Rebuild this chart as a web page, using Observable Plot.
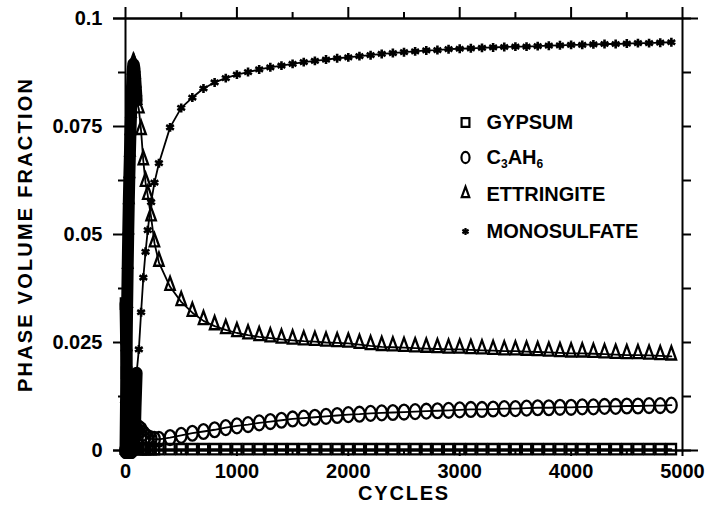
<!DOCTYPE html>
<html><head><meta charset="utf-8">
<script src="https://cdn.jsdelivr.net/npm/d3@7"></script>
<script src="https://cdn.jsdelivr.net/npm/@observablehq/plot@0.6"></script>
<style>body{margin:0;background:#fff}#chart{width:713px;height:520px}</style>
</head><body><div id="chart"></div>
<script>
// ---- data ----
const cycles = [0,5,10,15,20,25,30,35,40,45,50,55,60,65,70,75,80,85,90,95,100,
  120,140,160,180,200,230,260,300,
  400,500,600,700,800,900,1000,1100,1200,1300,
  1400,1500,1600,1700,1800,1900,2000,2100,2200,2300,
  2400,2500,2600,2700,2800,2900,3000,3100,3200,3300,
  3400,3500,3600,3700,3800,3900,4000,4100,4200,4300,
  4400,4500,4600,4700,4800,4900];

const gypsum = [0.034,0.026,0.018,0.011,0.006,0.003,0.0015,0.001,0.0005,0.0005,0.0005,0.0005,0.0005,0.0005,0.0005,0.0005,0.0005,0.0005,0.0005,0.0005,0.0005,
  0.0003,0.0003,0.0003,0.0003,0.0003,0.0003,0.0003,0.0003,
  0.0003,0.0003,0.0003,0.0003,0.0003,0.0003,0.0003,0.0003,0.0003,0.0003,
  0.0003,0.0003,0.0003,0.0003,0.0003,0.0003,0.0003,0.0003,0.0003,0.0003,
  0.0003,0.0003,0.0003,0.0003,0.0003,0.0003,0.0003,0.0003,0.0003,0.0003,
  0.0003,0.0003,0.0003,0.0003,0.0003,0.0003,0.0003,0.0003,0.0003,0.0003,
  0.0003,0.0003,0.0003,0.0003,0.0003,0.0003];

const c3ah6 = [0,0,0,0,0,0,0,0,0,0,0,0,0.0005,0.001,0.0018,0.0026,0.0034,0.004,0.0045,0.0048,0.005,
  0.0052,0.0048,0.004,0.0034,0.003,0.0027,0.0026,0.0026,
  0.003,0.0035,0.004,0.0044,0.0048,0.0053,0.0057,0.006,0.0064,0.0067,
  0.007,0.0073,0.0075,0.0077,0.0079,0.0081,0.0083,0.0084,0.0086,0.0087,
  0.0088,0.0089,0.009,0.0091,0.0092,0.0093,0.0094,0.0095,0.0095,0.0096,
  0.0097,0.0097,0.0098,0.0099,0.0099,0.01,0.01,0.0101,0.0101,0.0102,
  0.0102,0.0103,0.0103,0.0104,0.0104,0.0105];

const ettringite = [0,0.012,0.024,0.034,0.043,0.051,0.058,0.064,0.069,0.074,0.078,0.082,0.085,0.088,0.0895,0.0893,0.0885,0.087,0.085,0.083,0.081,
  0.079,0.074,0.067,0.062,0.059,0.054,0.048,0.0435,
  0.0379,0.0344,0.0319,0.0300,0.0288,0.0279,0.0272,0.0267,0.0263,0.026,
  0.0257,0.0255,0.0253,0.0252,0.025,0.0249,0.0248,0.0245,0.0242,0.024,
  0.0239,0.0238,0.0237,0.0236,0.0235,0.0234,0.0234,0.0233,0.0232,0.0231,
  0.023,0.023,0.0229,0.0228,0.0227,0.0226,0.0225,0.0225,0.0224,0.0223,
  0.0222,0.0221,0.0221,0.022,0.0219,0.0218];

const monosulfate = [0,0,0,0,0,0,0,0,0,0,0,0,0,0,0,0,0.001,0.005,0.01,0.014,0.018,
  0.0234,0.032,0.040,0.046,0.051,0.0575,0.062,0.0665,
  0.0748,0.0793,0.0817,0.0838,0.0852,0.0862,0.087,0.0876,0.0882,0.0887,
  0.0891,0.0895,0.0899,0.0902,0.0905,0.0908,0.091,0.0913,0.0915,0.0918,
  0.092,0.0922,0.0924,0.0926,0.0927,0.0929,0.093,0.0931,0.0932,0.0933,
  0.0934,0.0935,0.0935,0.0936,0.0937,0.0938,0.0939,0.0939,0.094,0.0941,
  0.0941,0.0942,0.0943,0.0943,0.0944,0.0945];

const seriesNames = ["GYPSUM", "C3AH6", "ETTRINGITE", "MONOSULFATE"];
const xTicks = [0, 1000, 2000, 3000, 4000, 5000];
const xMinorTicks = [500, 1500, 2500, 3500, 4500];
const yTicks = [0, 0.025, 0.05, 0.075, 0.1];
const yMinorTicks = [0.0125, 0.0375, 0.0625, 0.0875];
const xLabel = "CYCLES";
const yLabel = "PHASE VOLUME FRACTION";
const denseUntil = 100; // early output is so dense that the markers merge into a solid mass

// ---- build table ----
const seriesValues = [gypsum, c3ah6, ettringite, monosulfate];
const table = seriesNames.flatMap((name, s) =>
  cycles.map((c, i) => ({series: name, cycle: c, value: seriesValues[s][i]})));

// ---- custom open symbols ----
const squareSym = {draw(ctx, size) {
  const r = Math.sqrt(size / Math.PI), w = r * 0.85, h = r * 0.95;
  ctx.moveTo(-w, -h); ctx.lineTo(w, -h); ctx.lineTo(w, h); ctx.lineTo(-w, h); ctx.closePath();
}};
const ellipseSym = {draw(ctx, size) {
  const r = Math.sqrt(size / Math.PI), rx = r * 0.88, ry = r * 1.22, k = 0.5523;
  ctx.moveTo(rx, 0);
  ctx.bezierCurveTo(rx, ry * k, rx * k, ry, 0, ry);
  ctx.bezierCurveTo(-rx * k, ry, -rx, ry * k, -rx, 0);
  ctx.bezierCurveTo(-rx, -ry * k, -rx * k, -ry, 0, -ry);
  ctx.bezierCurveTo(rx * k, -ry, rx, -ry * k, rx, 0);
  ctx.closePath();
}};
const triSym = {draw(ctx, size) {
  const r = Math.sqrt(size / Math.PI);
  ctx.moveTo(0, -1.7 * r); ctx.lineTo(0.82 * r, 0.55 * r); ctx.lineTo(-0.82 * r, 0.55 * r); ctx.closePath();
}};
const symbols = [squareSym, ellipseSym, triSym, "asterisk"];
const radii = [5.5, 6.1, 5.8, 4.2];

const dotMarks = seriesNames.map((name, s) =>
  Plot.dot(table.filter(d => d.series === name), {
    x: "cycle", y: "value", symbol: symbols[s], r: radii[s],
    stroke: "black", fill: "none", strokeWidth: s === 3 ? 2.6 : 2.3
  }));

const legendRowDy = [104, 139, 176, 213];
const legendMarks = seriesNames.flatMap((name, s) => [
  Plot.dot([name], {frameAnchor: "top-left", dx: 340, dy: legendRowDy[s], symbol: symbols[s], r: s === 3 ? 3.4 : 4.6,
    stroke: "black", fill: "none", strokeWidth: 2.2}),
  Plot.text([name], {frameAnchor: "top-left", dx: 361, dy: legendRowDy[s], text: d => d, textAnchor: "start",
    lineAnchor: "middle", fontSize: 20, fontWeight: "bold", fill: "black"})
]);

const noText = () => "";

const chart = Plot.plot({
  width: 713, height: 520,
  marginLeft: 125, marginRight: 31, marginTop: 18, marginBottom: 70,
  style: {fontFamily: "'Liberation Sans', Arial, sans-serif", fontSize: "20px", fontWeight: "bold", color: "black", background: "white"},
  x: {domain: [0, 5000]},
  y: {domain: [0, 0.1]},
  marks: [
    Plot.axisX(xTicks, {anchor: "bottom", tickSize: 6, tickPadding: 7, tickFormat: d => String(d), fontSize: 20, fontWeight: "bold", label: null, strokeWidth: 2}),
    Plot.axisX(xMinorTicks, {anchor: "bottom", tickSize: 4, tickFormat: noText, label: null, strokeWidth: 2}),
    Plot.axisX(xTicks, {anchor: "top", tickSize: 12, tickFormat: noText, label: null, strokeWidth: 2}),
    Plot.axisX(xMinorTicks, {anchor: "top", tickSize: 7, tickFormat: noText, label: null, strokeWidth: 2}),
    Plot.axisY(yTicks, {anchor: "left", tickSize: 12, tickPadding: 11, tickFormat: d => String(d), fontSize: 20, fontWeight: "bold", label: null, strokeWidth: 2}),
    Plot.axisY(yMinorTicks, {anchor: "left", tickSize: 7, tickFormat: noText, label: null, strokeWidth: 2}),
    Plot.axisY(yTicks.concat(yMinorTicks), {anchor: "right", tickSize: 8, tickFormat: noText, label: null, strokeWidth: 2}),
    Plot.frame({stroke: "black", strokeWidth: 2}),
    Plot.ruleY([0, 0.1], {stroke: "black", strokeWidth: 2, insetLeft: -12, insetRight: -16}),
    Plot.line(table, {x: "cycle", y: "value", z: "series", stroke: "black", strokeWidth: 1.8}),
    Plot.line(table.filter(d => d.cycle <= denseUntil), {x: "cycle", y: "value", z: "series", stroke: "black",
      strokeWidth: 12, strokeLinejoin: "round", strokeLinecap: "round"}),
    ...dotMarks,
    ...legendMarks,
    Plot.text([xLabel], {frameAnchor: "bottom", dy: 43, text: d => d, textAnchor: "middle", fontSize: 20, fontWeight: "bold", lineAnchor: "middle", fill: "black"}),
    Plot.text([yLabel], {frameAnchor: "left", dx: -100, rotate: -90, text: d => d, textAnchor: "middle", fontSize: 20, fontWeight: "bold", lineAnchor: "middle", fill: "black"})
  ]
});
document.getElementById("chart").appendChild(chart);

// subscripts and letter spacing
const svg = d3.select(chart);
svg.selectAll("text").filter(function() { return this.textContent === "C3AH6"; }).each(function() {
  const t = d3.select(this); t.text("");
  t.append("tspan").text("C");
  t.append("tspan").attr("font-size", "12px").attr("dy", "4").text("3");
  t.append("tspan").attr("dy", "-4").text("AH");
  t.append("tspan").attr("font-size", "12px").attr("dy", "4").text("6");
});
svg.selectAll("text").filter(function() { return this.textContent === xLabel; }).attr("letter-spacing", "1.8px");
svg.selectAll("text").filter(function() { return this.textContent === yLabel; }).attr("letter-spacing", "2.2px");
</script></body></html>
